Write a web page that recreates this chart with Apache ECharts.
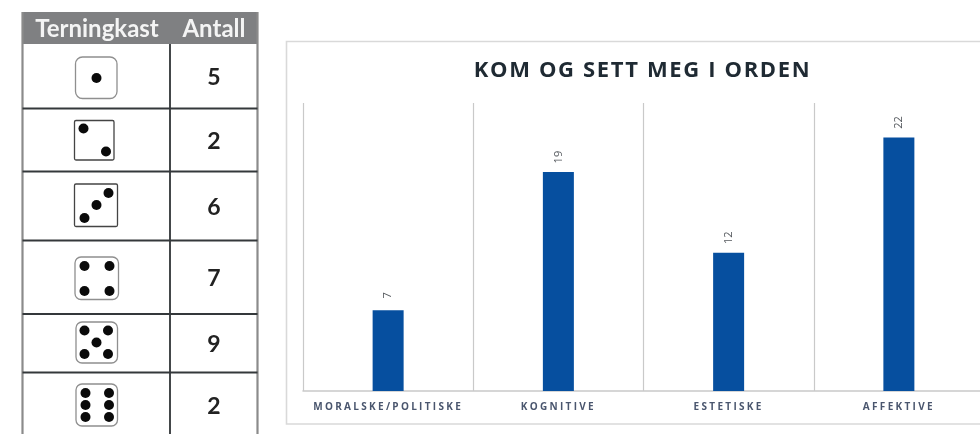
<!DOCTYPE html>
<html>
<head>
<meta charset="utf-8">
<style>html,body{margin:0;padding:0;background:#fff;overflow:hidden}#c{width:980px;height:434px}</style>
<script src="https://cdn.jsdelivr.net/npm/echarts@6/dist/echarts.min.js"></script>
</head>
<body>
<div id="c"></div>
<script>
// ---- data ----
const chartTitle = "KOM OG SETT MEG I ORDEN";
const categories = ["MORALSKE/POLITISKE", "KOGNITIVE", "ESTETISKE", "AFFEKTIVE"];
const values = [7, 19, 12, 22];
const tableHeaders = ["Terningkast", "Antall"];
const diceFaces = [1, 2, 3, 4, 5, 6];
const diceCounts = [5, 2, 6, 7, 9, 2];

// ---- letter spacing for canvas text, keyed by font size ----
const spacingBySize = { "22px": "1.65px", "10px": "2.3px" };
const nativeFillText = CanvasRenderingContext2D.prototype.fillText;
CanvasRenderingContext2D.prototype.fillText = function (t, x, y, m) {
  const match = /(\d+px)/.exec(this.font);
  this.letterSpacing = (match && spacingBySize[match[1]]) || "0px";
  return m === undefined ? nativeFillText.call(this, t, x, y) : nativeFillText.call(this, t, x, y, m);
};

// ---- table layout (pixels) ----
const T = { left: 22.5, right: 257.5, top: 12, head: 44, split: 170, cx1: 97, cx2: 214, bottom: 440 };
const rowLines = [108.5, 171.5, 240.5, 314, 372.5];
const rowCentre = [77.5, 141.5, 207.5, 278.5, 345, 406.5];
const diceBox = [
  { x: 75.5, y: 57, w: 41.5, h: 41.5, r: 7, c: "#8f8f8f" },
  { x: 74.5, y: 120.5, w: 39.5, h: 39.5, r: 1.5, c: "#444" },
  { x: 74.5, y: 184, w: 43, h: 42.5, r: 1.5, c: "#444" },
  { x: 75, y: 257, w: 43.5, h: 42.5, r: 6, c: "#8f8f8f" },
  { x: 76, y: 322, w: 41.5, h: 41, r: 6, c: "#8f8f8f" },
  { x: 76, y: 384, w: 41.5, h: 42, r: 6, c: "#8f8f8f" }
];
const pipSets = {
  1: [[96.5, 78]],
  2: [[83.5, 128.5], [106, 151.5]],
  3: [[108.5, 193], [96.5, 205], [84.5, 218]],
  4: [[84.5, 266], [109.5, 266], [84.5, 291], [109.5, 291]],
  5: [[84.5, 330.5], [108, 330.5], [96.5, 342.5], [84.5, 354], [108, 354]],
  6: [[85.5, 393], [109, 393], [85.5, 405], [109, 405], [85.5, 417], [109, 417]]
};
const tableFont = 'bold 24px Lato, "Open Sans", sans-serif';

function line(x1, y1, x2, y2, stroke, w) {
  return { type: "line", shape: { x1, y1, x2, y2 }, style: { stroke, lineWidth: w }, silent: true };
}
function tableFrame() {
  const kids = [
    { type: "rect", shape: { x: T.left, y: T.top, width: T.right - T.left, height: T.head - T.top }, style: { fill: "#7f8082" } },
    { type: "text", style: { text: tableHeaders[0], x: T.cx1, y: 29.5, fill: "#f4f4f4", font: tableFont, textAlign: "center", textVerticalAlign: "middle" } },
    { type: "text", style: { text: tableHeaders[1], x: T.cx2, y: 29.5, fill: "#f4f4f4", font: tableFont, textAlign: "center", textVerticalAlign: "middle" } },
    line(T.left, T.top, T.left, T.bottom, "#8b8b8b", 2.2),
    line(T.right, T.top, T.right, T.bottom, "#8b8b8b", 2.2),
    line(T.split, T.head, T.split, T.bottom, "#2f3336", 1.8)
  ];
  rowLines.forEach(y => kids.push(line(T.left, y, T.right, y, "#34383b", 1.8)));
  return kids;
}
function renderRow(params, api) {
  const i = params.dataIndex;
  const box = diceBox[i];
  const kids = i === 0 ? tableFrame() : [];
  kids.push({ type: "rect", shape: { x: box.x, y: box.y, width: box.w, height: box.h, r: box.r }, style: { fill: "#fff", stroke: box.c, lineWidth: 1.3 } });
  pipSets[api.value(0)].forEach(p => kids.push({ type: "circle", shape: { cx: p[0], cy: p[1], r: 5 }, style: { fill: "#0a0a0a" } }));
  kids.push({ type: "text", style: { text: String(api.value(1)), x: T.cx2, y: rowCentre[i], fill: "#222", font: 'bold 23px Lato, "Open Sans", sans-serif', textAlign: "center", textVerticalAlign: "middle" } });
  return { type: "group", children: kids };
}

const chart = echarts.init(document.getElementById("c"), null, { renderer: "canvas" });
chart.setOption({
  animation: false,
  backgroundColor: "#ffffff",
  title: {
    text: chartTitle,
    left: 637.5, top: 55, textAlign: "center",
    textStyle: { fontFamily: '"Open Sans", sans-serif', fontWeight: "bold", fontSize: 22, color: "#1f2a33" }
  },
  graphic: [{
    type: "rect", z: -10, silent: true,
    shape: { x: 286.5, y: 41.5, width: 720, height: 382.5 },
    style: { fill: "#fff", stroke: "#d9d9d9", lineWidth: 1.6 }
  }],
  grid: { left: 303, top: 103, width: 681, height: 288, containLabel: false, outerBoundsMode: "none" },
  xAxis: {
    type: "category", data: categories,
    axisLine: { lineStyle: { color: "#c9c9c9", width: 1.5 } },
    axisTick: { show: false },
    splitLine: { show: true, interval: 0, lineStyle: { color: "#c9c9c9", width: 1.2 } },
    axisLabel: { interval: 0, margin: 11, fontSize: 10, fontWeight: "bold", fontFamily: '"Open Sans", sans-serif', color: "#4a566e" }
  },
  yAxis: { type: "value", min: 0, max: 25, show: false },
  series: [
    {
      type: "bar", data: values, barWidth: 31,
      itemStyle: { color: "#064f9f" },
      label: { show: true, position: "top", distance: 15, rotate: 90, align: "center", verticalAlign: "middle", fontSize: 11, fontFamily: '"Open Sans", sans-serif', color: "#55595e" }
    },
    {
      type: "custom", coordinateSystem: "none", silent: true, z: 5,
      data: diceFaces.map((f, i) => [f, diceCounts[i]]),
      encode: { value: [0, 1] },
      renderItem: renderRow
    }
  ]
});
</script>
</body>
</html>
